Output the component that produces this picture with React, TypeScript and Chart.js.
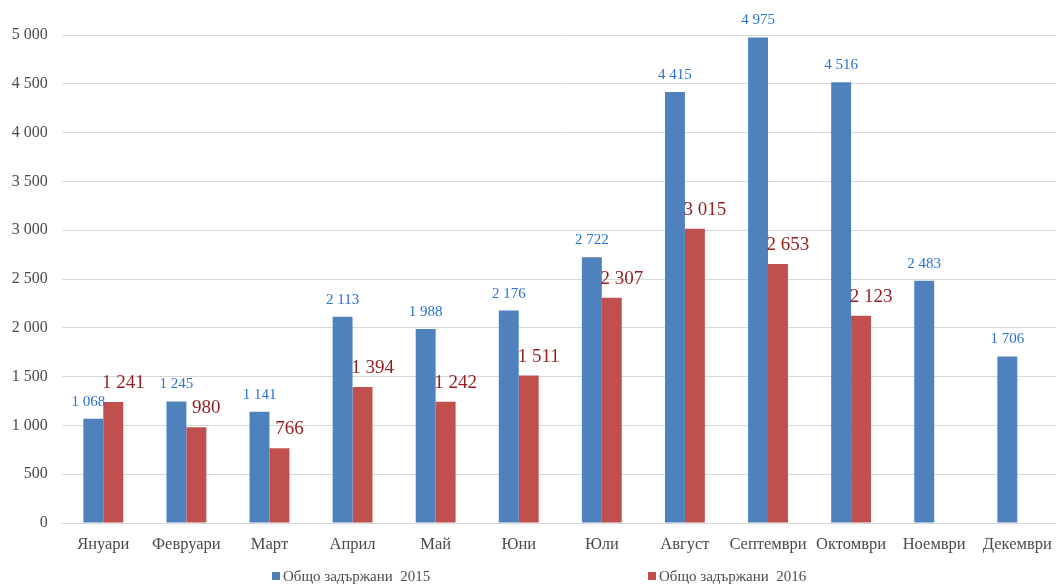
import React, { useEffect, useRef } from "react";
import { Chart, registerables } from "chart.js";

Chart.register(...registerables);

const months = ["Януари", "Февруари", "Март", "Април", "Май", "Юни", "Юли", "Август", "Септември", "Октомври", "Ноември", "Декември"];
const detained2015 = [1068, 1245, 1141, 2113, 1988, 2176, 2722, 4415, 4975, 4516, 2483, 1706];
const detained2016: (number | null)[] = [1241, 980, 766, 1394, 1242, 1511, 2307, 3015, 2653, 2123, null, null];
const seriesNames = ["Общо задържани  2015", "Общо задържани  2016"];
const yTicks = [0, 500, 1000, 1500, 2000, 2500, 3000, 3500, 4000, 4500, 5000];

const FONT = "'Liberation Serif', 'Times New Roman', serif";
const BLUE = "#4F81BD";
const RED = "#C0504D";
const BLUE_TXT = "#2A72D2";
const RED_TXT = "#921E1E";
const AXIS_TXT = "#4a4a4a";

const fmt = (v: number) => v.toString().replace(/\B(?=(\d{3})+(?!\d))/g, " ");

const labelPlugin = {
  id: "valueLabels",
  afterDatasetsDraw(chart: any) {
    const ctx = chart.ctx;
    ctx.save();
    ctx.textBaseline = "middle";
    ctx.textAlign = "center";
    chart.data.datasets.forEach((ds: any, di: number) => {
      const meta = chart.getDatasetMeta(di);
      meta.data.forEach((bar: any, i: number) => {
        const v = ds.data[i];
        if (v === null || v === undefined) return;
        if (di === 0) {
          ctx.font = `15px ${FONT}`;
          ctx.fillStyle = BLUE_TXT;
          const dx = i === 0 ? -5 : 0;
          ctx.fillText(fmt(v), bar.x + dx, bar.y - 17);
        } else {
          ctx.font = `19px ${FONT}`;
          ctx.fillStyle = RED_TXT;
          ctx.fillText(fmt(v), bar.x + 10, bar.y - 19);
        }
      });
    });
    ctx.restore();
  },
};

const legendPlugin = {
  id: "bottomLegend",
  afterDraw(chart: any) {
    const ctx = chart.ctx;
    ctx.save();
    const items = [
      { x: 272, color: BLUE, text: seriesNames[0] },
      { x: 648, color: RED, text: seriesNames[1] },
    ];
    ctx.font = `15px ${FONT}`;
    ctx.textBaseline = "middle";
    ctx.textAlign = "left";
    items.forEach((it) => {
      ctx.fillStyle = it.color;
      ctx.fillRect(it.x, 572, 8, 8);
      ctx.fillStyle = AXIS_TXT;
      ctx.fillText(it.text, it.x + 11, 577);
    });
    ctx.restore();
  },
};

export default function App() {
  const ref = useRef<HTMLCanvasElement>(null);
  useEffect(() => {
    if (!ref.current) return;
    const chart = new Chart(ref.current, {
      type: "bar",
      data: {
        labels: months,
        datasets: [
          { label: seriesNames[0], data: detained2015, backgroundColor: BLUE, barPercentage: 1, categoryPercentage: 0.48 },
          { label: seriesNames[1], data: detained2016 as any, backgroundColor: RED, barPercentage: 1, categoryPercentage: 0.48 },
        ],
      },
      options: {
        responsive: false,
        animation: false,
        layout: { padding: { top: 35, right: 5, left: 0, bottom: 0 } },
        plugins: { legend: { display: false }, tooltip: { enabled: false } },
        scales: {
          x: {
            grid: { display: false, drawTicks: false },
            border: { display: true, color: "#d9d9d9", width: 1 },
            ticks: { color: AXIS_TXT, font: { family: FONT, size: 16.5 }, padding: 12, maxRotation: 0, autoSkip: false },
            afterFit: (s: any) => { s.height = 63; },
          },
          y: {
            min: 0,
            max: 5000,
            afterBuildTicks: (s: any) => { s.ticks = yTicks.map((v) => ({ value: v })); },
            grid: { color: "#d9d9d9", drawTicks: false, lineWidth: 1 },
            border: { display: false },
            ticks: { color: AXIS_TXT, font: { family: FONT, size: 16 }, padding: 14, callback: (v: any) => fmt(Number(v)) },
            afterFit: (s: any) => { s.width = 61.75; },
          },
        },
      },
      plugins: [labelPlugin, legendPlugin],
    });
    return () => chart.destroy();
  }, []);
  return (
    <div style={{ position: "fixed", left: 0, top: 0, width: 1056, height: 586, overflow: "hidden", background: "#fff" }}>
      <canvas ref={ref} width={1064} height={586} style={{ width: 1064, height: 586, display: "block" }} />
    </div>
  );
}
